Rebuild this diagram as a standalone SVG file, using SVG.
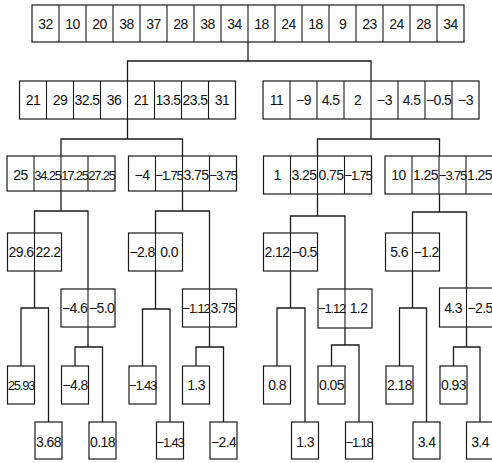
<svg xmlns="http://www.w3.org/2000/svg" width="492" height="463" viewBox="0 0 492 463">
<style>
.c{fill:none;stroke:#1a1a1a;stroke-width:1.3}
.b{fill:#fff;stroke:#1a1a1a;stroke-width:1.2}
.d{stroke:#1a1a1a;stroke-width:1.1}
text{font-family:"Liberation Sans",Arial,sans-serif;font-size:14px;fill:#111;text-anchor:middle;letter-spacing:-0.6px}
text.s{font-size:13px;letter-spacing:-1.2px}
</style>
<rect width="492" height="463" fill="#fff"/>
<g id="connectors" class="c">
<polyline points="248,42 248,61"/>
<polyline points="127.5,139 127.5,61 371,61 371,139"/>
<polyline points="61,211 61,139 182.5,139 182.5,211"/>
<polyline points="317.5,216 317.5,139 439.5,139 439.5,212"/>
<polyline points="34.5,308 34.5,211 88,211 88,347"/>
<polyline points="155.5,309 155.5,211 209.5,211 209.5,347"/>
<polyline points="290.5,308 290.5,216 345,216 345,345"/>
<polyline points="412.5,308 412.5,212 466.5,212 466.5,347"/>
<polyline points="21,366 21,308 48.5,308 48.5,422"/>
<polyline points="75,366 75,347 102.5,347 102.5,422"/>
<polyline points="142.5,366 142.5,309 170,309 170,422"/>
<polyline points="196,366 196,347 223.5,347 223.5,422"/>
<polyline points="277,366 277,308 305,308 305,422"/>
<polyline points="331.5,366 331.5,345 359,345 359,422"/>
<polyline points="399.5,366 399.5,308 426.5,308 426.5,422"/>
<polyline points="453.5,366 453.5,347 480,347 480,422"/>
</g>
<g id="n_root">
<rect class="b" x="32" y="5" width="432" height="37"/>
<path class="d" d="M59,5V42M86,5V42M113,5V42M140,5V42M167,5V42M194,5V42M221,5V42M248,5V42M275,5V42M302,5V42M329,5V42M356,5V42M383,5V42M410,5V42M437,5V42"/>
<text x="45.5" y="28.5">32</text><text x="72.5" y="28.5">10</text><text x="99.5" y="28.5">20</text><text x="126.5" y="28.5">38</text><text x="153.5" y="28.5">37</text><text x="180.5" y="28.5">28</text><text x="207.5" y="28.5">38</text><text x="234.5" y="28.5">34</text><text x="261.5" y="28.5">18</text><text x="288.5" y="28.5">24</text><text x="315.5" y="28.5">18</text><text x="342.5" y="28.5">9</text><text x="369.5" y="28.5">23</text><text x="396.5" y="28.5">24</text><text x="423.5" y="28.5">28</text><text x="450.5" y="28.5">34</text>
</g>
<g id="n_L">
<rect class="b" x="19.5" y="81" width="216" height="38"/>
<path class="d" d="M46.5,81V119M73.5,81V119M100.5,81V119M127.5,81V119M154.5,81V119M181.5,81V119M208.5,81V119"/>
<text x="33" y="105">21</text><text x="60" y="105">29</text><text x="87" y="105">32.5</text><text x="114" y="105">36</text><text x="141" y="105">21</text><text x="168" y="105">13.5</text><text x="195" y="105">23.5</text><text x="222" y="105">31</text>
</g>
<g id="n_R">
<rect class="b" x="263" y="81" width="216" height="38"/>
<path class="d" d="M290,81V119M317,81V119M344,81V119M371,81V119M398,81V119M425,81V119M452,81V119"/>
<text x="276.5" y="105">11</text><text x="303.5" y="105">−9</text><text x="330.5" y="105">4.5</text><text x="357.5" y="105">2</text><text x="384.5" y="105">−3</text><text x="411.5" y="105">4.5</text><text x="438.5" y="105">−0.5</text><text x="465.5" y="105">−3</text>
</g>
<g id="n_LL">
<rect class="b" x="7" y="156" width="108" height="35"/>
<path class="d" d="M34,156V191M61,156V191M88,156V191"/>
<text x="20.5" y="180">25</text><text class="s" x="47.5" y="180">34.25</text><text class="s" x="74.5" y="180">17.25</text><text class="s" x="101.5" y="180">27.25</text>
</g>
<g id="n_LR">
<rect class="b" x="128.5" y="156" width="108" height="35"/>
<path class="d" d="M155.5,156V191M182.5,156V191M209.5,156V191"/>
<text x="142" y="180">−4</text><text class="s" x="169" y="180">−1.75</text><text x="196" y="180">3.75</text><text class="s" x="223" y="180">−3.75</text>
</g>
<g id="n_RL">
<rect class="b" x="263.5" y="156" width="108" height="38"/>
<path class="d" d="M290.5,156V194M317.5,156V194M344.5,156V194"/>
<text x="277" y="180">1</text><text x="304" y="180">3.25</text><text x="331" y="180">0.75</text><text class="s" x="358" y="180">−1.75</text>
</g>
<g id="n_RR">
<rect class="b" x="385" y="156" width="108" height="38"/>
<path class="d" d="M412,156V194M439,156V194M466,156V194"/>
<text x="398.5" y="180">10</text><text x="425.5" y="180">1.25</text><text class="s" x="452.5" y="180">−3.75</text><text x="479.5" y="180">1.25</text>
</g>
<g id="n_LLa">
<rect class="b" x="7.5" y="233" width="54" height="38"/>
<path class="d" d="M34.5,233V271"/>
<text x="21" y="257">29.6</text><text x="48" y="257">22.2</text>
</g>
<g id="n_LLb">
<rect class="b" x="61" y="289" width="54" height="38"/>
<path class="d" d="M88,289V327"/>
<text x="74.5" y="313">−4.6</text><text x="101.5" y="313">−5.0</text>
</g>
<g id="n_LRa">
<rect class="b" x="128.5" y="233" width="54" height="38"/>
<path class="d" d="M155.5,233V271"/>
<text x="142" y="257">−2.8</text><text x="169" y="257">0.0</text>
</g>
<g id="n_LRb">
<rect class="b" x="182.5" y="289" width="54" height="38"/>
<path class="d" d="M209.5,289V327"/>
<text class="s" x="196" y="313">−1.12</text><text x="223" y="313">3.75</text>
</g>
<g id="n_RLa">
<rect class="b" x="263.5" y="233" width="54" height="38"/>
<path class="d" d="M290.5,233V271"/>
<text x="277" y="257">2.12</text><text x="304" y="257">−0.5</text>
</g>
<g id="n_RLb">
<rect class="b" x="318" y="289" width="54" height="39"/>
<path class="d" d="M345,289V328"/>
<text class="s" x="331.5" y="313">−1.12</text><text x="358.5" y="313">1.2</text>
</g>
<g id="n_RRa">
<rect class="b" x="385.5" y="233" width="54" height="38"/>
<path class="d" d="M412.5,233V271"/>
<text x="399" y="257">5.6</text><text x="426" y="257">−1.2</text>
</g>
<g id="n_RRb">
<rect class="b" x="439.5" y="288" width="54" height="39"/>
<path class="d" d="M466.5,288V327"/>
<text x="453" y="313">4.3</text><text x="480" y="313">−2.5</text>
</g>
<g id="n_l1"><rect class="b" x="7.5" y="366" width="27" height="38"/><text class="s" x="21" y="390">25.93</text></g>
<g id="n_l2"><rect class="b" x="35" y="422" width="27" height="37"/><text x="48.5" y="447">3.68</text></g>
<g id="n_l3"><rect class="b" x="61.5" y="366" width="27" height="38"/><text x="75" y="390">−4.8</text></g>
<g id="n_l4"><rect class="b" x="89" y="422" width="27" height="37"/><text x="102.5" y="447">0.18</text></g>
<g id="n_l5"><rect class="b" x="129" y="366" width="27" height="38"/><text class="s" x="142.5" y="390">−1.43</text></g>
<g id="n_l6"><rect class="b" x="156.5" y="422" width="27" height="37"/><text class="s" x="170" y="447">−1.43</text></g>
<g id="n_l7"><rect class="b" x="182.5" y="366" width="27" height="38"/><text x="196" y="390">1.3</text></g>
<g id="n_l8"><rect class="b" x="210" y="422" width="27" height="37"/><text x="223.5" y="447">−2.4</text></g>
<g id="n_l9"><rect class="b" x="263.5" y="366" width="27" height="38"/><text x="277" y="390">0.8</text></g>
<g id="n_l10"><rect class="b" x="291.5" y="422" width="27" height="37"/><text x="305" y="447">1.3</text></g>
<g id="n_l11"><rect class="b" x="318" y="366" width="27" height="38"/><text x="331.5" y="390">0.05</text></g>
<g id="n_l12"><rect class="b" x="345.5" y="422" width="27" height="37"/><text class="s" x="359" y="447">−1.18</text></g>
<g id="n_l13"><rect class="b" x="386" y="366" width="27" height="38"/><text x="399.5" y="390">2.18</text></g>
<g id="n_l14"><rect class="b" x="413" y="422" width="27" height="37"/><text x="426.5" y="447">3.4</text></g>
<g id="n_l15"><rect class="b" x="440" y="366" width="27" height="38"/><text x="453.5" y="390">0.93</text></g>
<g id="n_l16"><rect class="b" x="466.5" y="422" width="27" height="37"/><text x="480" y="447">3.4</text></g>
</svg>
